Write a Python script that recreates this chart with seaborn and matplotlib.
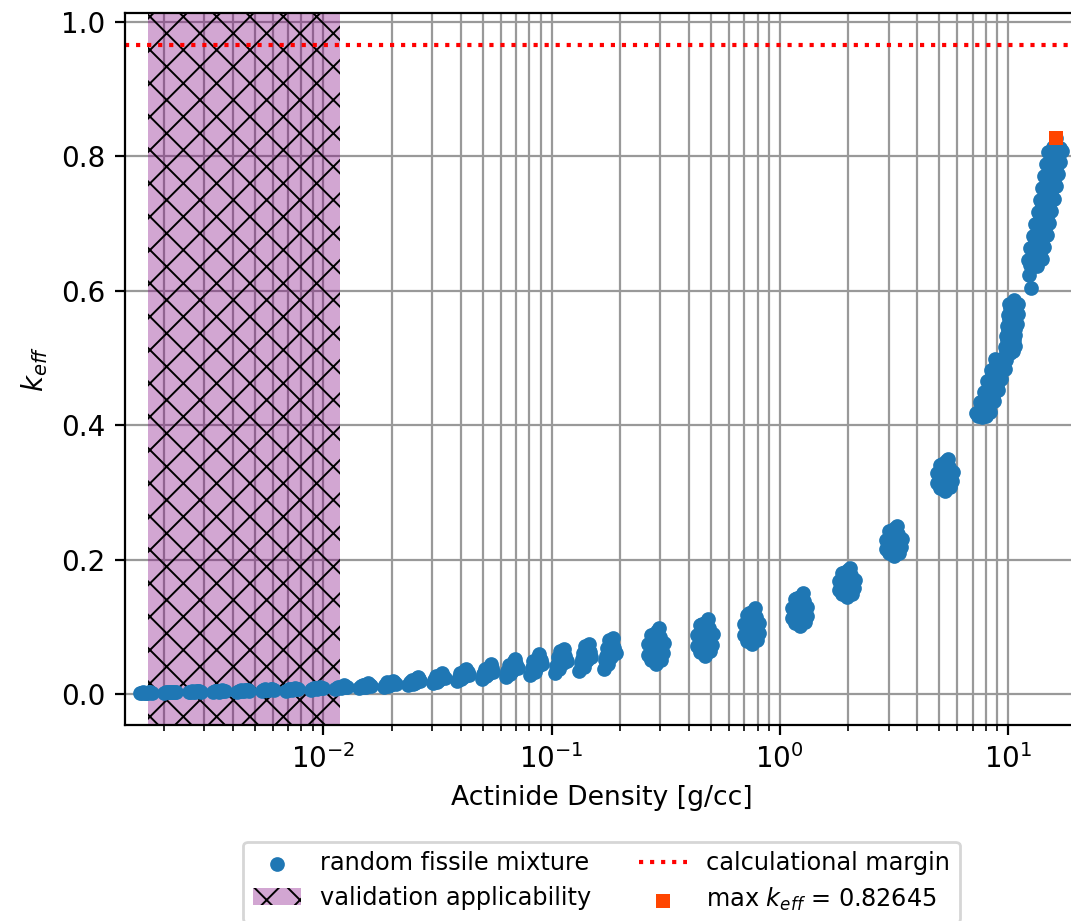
import numpy as np
import pandas as pd
import matplotlib
matplotlib.use("Agg")
import matplotlib.pyplot as plt
import seaborn as sns

# Sampled mixtures: actinide density [g/cc] and computed k_eff.
# Each line holds the samples of one density step (same order in both lists).
density = [
    0.00157, 0.00162, 0.00167, 0.00172, 0.00177, 0.001595, 0.001645, 0.001695, 0.001745,
    0.00200, 0.00207, 0.00213, 0.00219, 0.00226, 0.002035, 0.0021, 0.00216, 0.002225,
    0.00257, 0.00265, 0.00273, 0.00281, 0.00290, 0.00261, 0.00269, 0.00277, 0.002855,
    0.00328, 0.00339, 0.00349, 0.00359, 0.00370, 0.003335, 0.00344, 0.00354, 0.003645,
    0.00420, 0.00434, 0.00447, 0.00460, 0.00474, 0.00427, 0.004405, 0.004535, 0.00467,
    0.00537, 0.00554, 0.00571, 0.00588, 0.00605, 0.005455, 0.005625, 0.005795, 0.005965,
    0.00687, 0.00709, 0.00731, 0.00753, 0.00775, 0.00698, 0.0072, 0.00742, 0.00764,
    0.00879, 0.00907, 0.00935, 0.00963, 0.00991, 0.00893, 0.00921, 0.00949, 0.00977,
    0.01128, 0.01164, 0.0120, 0.01236, 0.01272, 0.01146, 0.01182, 0.01218, 0.01254,
    0.01438, 0.01484, 0.0153, 0.01576, 0.01622, 0.0150, 0.0156, 0.01461, 0.01507, 0.01553, 0.01599,
    0.01842, 0.01901, 0.0196, 0.02019, 0.02078, 0.0192, 0.0200, 0.01871, 0.01930, 0.01990, 0.02049,
    0.02359, 0.02435, 0.0251, 0.02585, 0.02661, 0.0246, 0.0256, 0.0251, 0.02397, 0.02473, 0.02548, 0.02623,
    0.03017, 0.03114, 0.0321, 0.03306, 0.03403, 0.0315, 0.0327, 0.0321, 0.03066, 0.03162, 0.03258, 0.03355,
    0.03854, 0.03977, 0.0410, 0.04223, 0.04346, 0.0402, 0.0418, 0.0410, 0.0396, 0.03916, 0.04039, 0.04162, 0.04285,
    0.04935, 0.05093, 0.0525, 0.05408, 0.05565, 0.0515, 0.0535, 0.0525, 0.0507, 0.05014, 0.05172, 0.05329, 0.05487,
    0.06307, 0.06509, 0.0671, 0.06911, 0.07113, 0.0658, 0.0684, 0.0671, 0.0648, 0.0694, 0.06408, 0.06610, 0.06811, 0.07012,
    0.08075, 0.08332, 0.0859, 0.08848, 0.09105, 0.0842, 0.0876, 0.0859, 0.0829, 0.0889, 0.08204, 0.08461, 0.08719, 0.08977,
    0.1034, 0.1067, 0.110, 0.1133, 0.1166, 0.1078, 0.1122, 0.110, 0.1062, 0.1138, 0.1090, 0.1050, 0.1084, 0.1117, 0.1150,
    0.1325, 0.1368, 0.141, 0.1452, 0.1495, 0.1382, 0.1438, 0.141, 0.1361, 0.1459, 0.1398, 0.1347, 0.1389, 0.1431, 0.1474,
    0.1692, 0.1746, 0.180, 0.1854, 0.1908, 0.1764, 0.1836, 0.180, 0.1737, 0.1863, 0.1785, 0.1719, 0.1773, 0.1827, 0.1881,
    0.288, 0.274, 0.302, 0.265, 0.288, 0.308, 0.274, 0.297, 0.265, 0.311, 0.282, 0.300, 0.274, 0.291, 0.297,
    0.2808, 0.2952, 0.2808, 0.2952, 0.2808, 0.288,
    0.470, 0.4465, 0.4935, 0.4324, 0.470, 0.5029, 0.4465, 0.4841, 0.4324, 0.5076, 0.4606, 0.4888, 0.4465, 0.4747, 0.4841,
    0.4583, 0.4818, 0.4583, 0.4818, 0.4583, 0.470,
    0.755, 0.717, 0.793, 0.695, 0.755, 0.808, 0.717, 0.778, 0.695, 0.815, 0.740, 0.785, 0.717, 0.763, 0.778,
    0.7361, 0.7739, 0.7361, 0.7739, 0.7361, 0.755,
    1.225, 1.164, 1.286, 1.127, 1.225, 1.311, 1.164, 1.262, 1.127, 1.323, 1.200, 1.274, 1.164, 1.237, 1.262,
    1.1944, 1.2556, 1.1944, 1.2556, 1.1944, 1.225,
    1.98, 1.881, 2.079, 1.822, 1.98, 2.119, 1.881, 2.039, 1.822, 2.138, 1.940, 2.059, 1.881, 2.000, 2.039,
    1.9305, 2.0295, 1.9305, 2.0295, 1.9305, 1.98,
    3.18, 3.021, 3.339, 2.926, 3.18, 3.403, 3.021, 3.275, 2.926, 3.434, 3.116, 3.307, 3.021, 3.212, 3.275,
    3.1005, 3.2595, 3.1005, 3.2595, 3.1005, 3.18,
    5.30, 5.035, 5.565, 4.876, 5.30, 5.671, 5.035, 5.459, 4.876, 5.724, 5.194, 5.512, 5.035, 5.353, 5.459,
    5.1675, 5.4325, 5.1675, 5.4325, 5.1675, 5.30,
    7.70, 7.27, 8.37, 7.97, 7.55, 8.69, 8.28, 7.84, 9.02, 8.59, 8.13, 9.35, 8.90, 8.42, 9.68,
    9.20, 8.80, 9.85,
    7.39, 8.01, 7.82, 7.65, 8.29, 8.12, 7.95, 8.61, 8.43, 8.25, 8.93, 8.74, 8.54, 9.26, 9.05,
    8.83, 9.57, 9.36,
    10.2, 9.75, 10.7, 10.25, 9.8, 10.8, 10.35, 9.9, 10.95, 10.45, 10.0, 11.05, 10.55, 10.1, 11.1,
    10.6,
    9.85, 10.55, 10.22, 9.9, 10.6, 10.3, 10.0, 10.7, 10.42, 10.1, 10.8, 10.52, 10.2, 10.9, 10.6,
    12.6, 12.4,
    13.0, 12.25, 14.09, 13.33, 12.56, 14.45, 13.66, 12.86, 14.80, 14.0, 13.17, 15.15, 14.33, 13.49,
    15.52, 14.66, 13.79, 15.87, 15.0, 14.10, 16.22, 15.33, 14.42, 16.59, 15.66, 14.72, 16.94, 16.0,
    15.03, 17.29, 16.3,
    12.55, 13.45, 12.86, 13.80, 13.18, 14.14, 13.51, 14.49, 13.83, 14.83, 14.15, 15.17,
    14.48, 15.53, 14.79, 15.87, 15.11, 16.21, 15.44, 16.56, 15.73, 16.87,
    13.17, 13.5, 13.83, 14.16, 14.5, 14.83, 15.16, 15.5, 15.83, 16.16,
    16.2,
]
keff = [
    0.0015, 0.0025, 0.0018, 0.0028, 0.0022, 0.0020, 0.0021, 0.0023, 0.0025,
    0.0020, 0.0034, 0.0026, 0.0038, 0.0030, 0.0027, 0.0030, 0.0032, 0.0034,
    0.0025, 0.0042, 0.0032, 0.0048, 0.0036, 0.0033, 0.0037, 0.0040, 0.0042,
    0.0030, 0.0050, 0.0038, 0.0058, 0.0044, 0.0040, 0.0044, 0.0048, 0.0051,
    0.0036, 0.0060, 0.0046, 0.0068, 0.0052, 0.0048, 0.0053, 0.0057, 0.0060,
    0.0042, 0.0070, 0.0054, 0.0079, 0.0060, 0.0056, 0.0062, 0.0066, 0.0070,
    0.0050, 0.0082, 0.0064, 0.0092, 0.0070, 0.0066, 0.0073, 0.0078, 0.0081,
    0.0060, 0.0096, 0.0075, 0.0108, 0.0084, 0.0078, 0.0086, 0.0091, 0.0096,
    0.0070, 0.0112, 0.0088, 0.0128, 0.0098, 0.0090, 0.0100, 0.0106, 0.0112,
    0.0088, 0.0140, 0.0112, 0.0158, 0.0125, 0.0100, 0.0135, 0.0115, 0.0128, 0.0122, 0.0142,
    0.0108, 0.0175, 0.0140, 0.0198, 0.0155, 0.0125, 0.0165, 0.0142, 0.0158, 0.0150, 0.0178,
    0.0130, 0.0215, 0.0172, 0.0250, 0.0190, 0.0150, 0.0235, 0.0205, 0.0175, 0.0195, 0.0180, 0.0220,
    0.0160, 0.0265, 0.0210, 0.0310, 0.0235, 0.0185, 0.0290, 0.0250, 0.0215, 0.0240, 0.0225, 0.0270,
    0.0190, 0.0320, 0.0255, 0.0380, 0.0285, 0.0225, 0.0355, 0.0300, 0.0270, 0.0255, 0.0290, 0.0275, 0.0335,
    0.0222, 0.0375, 0.0300, 0.0450, 0.0335, 0.0262, 0.0420, 0.0355, 0.0320, 0.0300, 0.0340, 0.0320, 0.0395,
    0.0252, 0.0430, 0.0345, 0.0520, 0.0385, 0.0300, 0.0485, 0.0410, 0.0365, 0.0455, 0.0340, 0.0390, 0.0370, 0.0450,
    0.0282, 0.0490, 0.0390, 0.0600, 0.0440, 0.0335, 0.0555, 0.0470, 0.0415, 0.0520, 0.0385, 0.0440, 0.0415, 0.0505,
    0.0315, 0.0545, 0.0440, 0.0670, 0.0490, 0.0370, 0.0620, 0.0520, 0.0460, 0.0580, 0.0640, 0.0420, 0.0480, 0.0455, 0.0560,
    0.0345, 0.0610, 0.0490, 0.0745, 0.0545, 0.0410, 0.0690, 0.0580, 0.0515, 0.0650, 0.0720, 0.0465, 0.0535, 0.0500, 0.0620,
    0.0375, 0.0680, 0.0545, 0.0830, 0.0605, 0.0450, 0.0765, 0.0645, 0.0570, 0.0720, 0.0800, 0.0510, 0.0590, 0.0555, 0.0690,
    0.045, 0.050, 0.051, 0.058, 0.057, 0.061, 0.066, 0.069, 0.074, 0.076, 0.079, 0.085, 0.088, 0.094, 0.098,
    0.053, 0.0636, 0.0715, 0.0821, 0.090, 0.0768,
    0.057, 0.0625, 0.0636, 0.0708, 0.0691, 0.0735, 0.079, 0.0818, 0.0873, 0.0889, 0.0928, 0.0983, 0.1021, 0.1076, 0.112,
    0.0653, 0.0763, 0.0845, 0.0955, 0.1038, 0.090,
    0.074, 0.0794, 0.0805, 0.0875, 0.0859, 0.0902, 0.0956, 0.0983, 0.1037, 0.1053, 0.1091, 0.1145, 0.1183, 0.1237, 0.128,
    0.0821, 0.0929, 0.101, 0.1118, 0.1199, 0.1064,
    0.101, 0.1059, 0.1069, 0.1133, 0.1118, 0.1157, 0.1206, 0.1231, 0.1280, 0.1294, 0.1329, 0.1378, 0.1412, 0.1461, 0.150,
    0.1084, 0.1182, 0.1255, 0.1353, 0.1427, 0.1304,
    0.144, 0.1484, 0.1493, 0.155, 0.1537, 0.1572, 0.1616, 0.1638, 0.1682, 0.1695, 0.1726, 0.177, 0.1801, 0.1845, 0.188,
    0.1506, 0.1594, 0.166, 0.1748, 0.1814, 0.1704,
    0.205, 0.2095, 0.2104, 0.2163, 0.2149, 0.2185, 0.223, 0.2253, 0.2298, 0.2311, 0.2343, 0.2388, 0.2419, 0.2464, 0.250,
    0.2118, 0.2208, 0.2275, 0.2365, 0.2433, 0.232,
    0.302, 0.3068, 0.3078, 0.314, 0.3126, 0.3164, 0.3212, 0.3236, 0.3284, 0.3298, 0.3332, 0.338, 0.3414, 0.3462, 0.350,
    0.3092, 0.3188, 0.326, 0.3356, 0.3428, 0.3308,
    0.412, 0.418, 0.420, 0.426, 0.434, 0.436, 0.442, 0.450, 0.452, 0.458, 0.466, 0.468, 0.474, 0.482, 0.484,
    0.490, 0.498, 0.497,
    0.414, 0.413, 0.419, 0.427, 0.428, 0.435, 0.443, 0.444, 0.451, 0.459, 0.460, 0.467, 0.475, 0.476, 0.483,
    0.491, 0.492, 0.499,
    0.508, 0.516, 0.518, 0.524, 0.532, 0.534, 0.540, 0.548, 0.550, 0.556, 0.564, 0.566, 0.572, 0.580, 0.580,
    0.586,
    0.510, 0.511, 0.517, 0.526, 0.527, 0.533, 0.542, 0.543, 0.549, 0.558, 0.559, 0.565, 0.574, 0.575, 0.581,
    0.604, 0.623,
    0.636, 0.645, 0.647, 0.654, 0.663, 0.665, 0.672, 0.681, 0.683, 0.690, 0.699, 0.701, 0.708, 0.717,
    0.719, 0.726, 0.735, 0.737, 0.744, 0.753, 0.755, 0.762, 0.771, 0.773, 0.780, 0.789, 0.791, 0.798,
    0.807, 0.808, 0.815,
    0.638, 0.637, 0.656, 0.655, 0.674, 0.673, 0.692, 0.691, 0.710, 0.709, 0.728, 0.727,
    0.746, 0.745, 0.764, 0.763, 0.782, 0.781, 0.800, 0.799, 0.813, 0.812,
    0.646, 0.664, 0.682, 0.700, 0.718, 0.736, 0.754, 0.772, 0.790, 0.806,
    0.82645,
]

calc_margin = 0.965                 # upper subcritical limit
valid_range = (0.0017, 0.0118)      # density range covered by validation
x_limits = (1.35e-3, 20.3)
y_limits = (-0.046, 1.013)

df = pd.DataFrame({"density": density, "keff": keff})
imax = int(df["keff"].idxmax())
max_row = df.loc[[imax]]
keff_max = float(max_row["keff"].iloc[0])
max_label = f"max $k_{{eff}}$ = {keff_max:.5f}"

W, H, DPI = 1071, 921, 200
fig = plt.figure(figsize=(W / DPI, H / DPI), dpi=DPI)
ax = fig.add_axes([125 / W, 196 / H, 953 / W, 712 / H])
ax.set_xscale("log")
ax.set_xlim(*x_limits)
ax.set_ylim(*y_limits)

ax.set_axisbelow(True)
ax.grid(True, which="both", color="#999999", linewidth=0.8)

plt.rcParams["hatch.linewidth"] = 0.7
ax.axvspan(*valid_range, facecolor=(0.5, 0.0, 0.5, 0.35),
           edgecolor="black", hatch="xx", linewidth=0,
           label="validation applicability", zorder=1)

sns.scatterplot(data=df, x="density", y="keff", ax=ax, color="#1f77b4",
                s=28, linewidth=0, label="random fissile mixture", zorder=2,
                legend=False)

ax.axhline(calc_margin, color="red", linestyle=":", linewidth=1.5,
           label="calculational margin")

sns.scatterplot(data=max_row, x="density", y="keff", ax=ax, color="#ff4500",
                marker="s", s=28, linewidth=0, zorder=3, legend=False,
                label=max_label)

ax.set_xlabel("Actinide Density [g/cc]", fontsize=9.6)
ax.set_ylabel("$k_{eff}$")

handles, labels = ax.get_legend_handles_labels()
order = ["random fissile mixture", "validation applicability",
         "calculational margin", max_label]
hmap = dict(zip(labels, handles))
ax.legend([hmap[l] for l in order], order, loc="upper center",
          bbox_to_anchor=(0.5, -0.147), ncol=2, fontsize=8.65,
          labelspacing=0.45)

fig.savefig("out.png", dpi=DPI)
